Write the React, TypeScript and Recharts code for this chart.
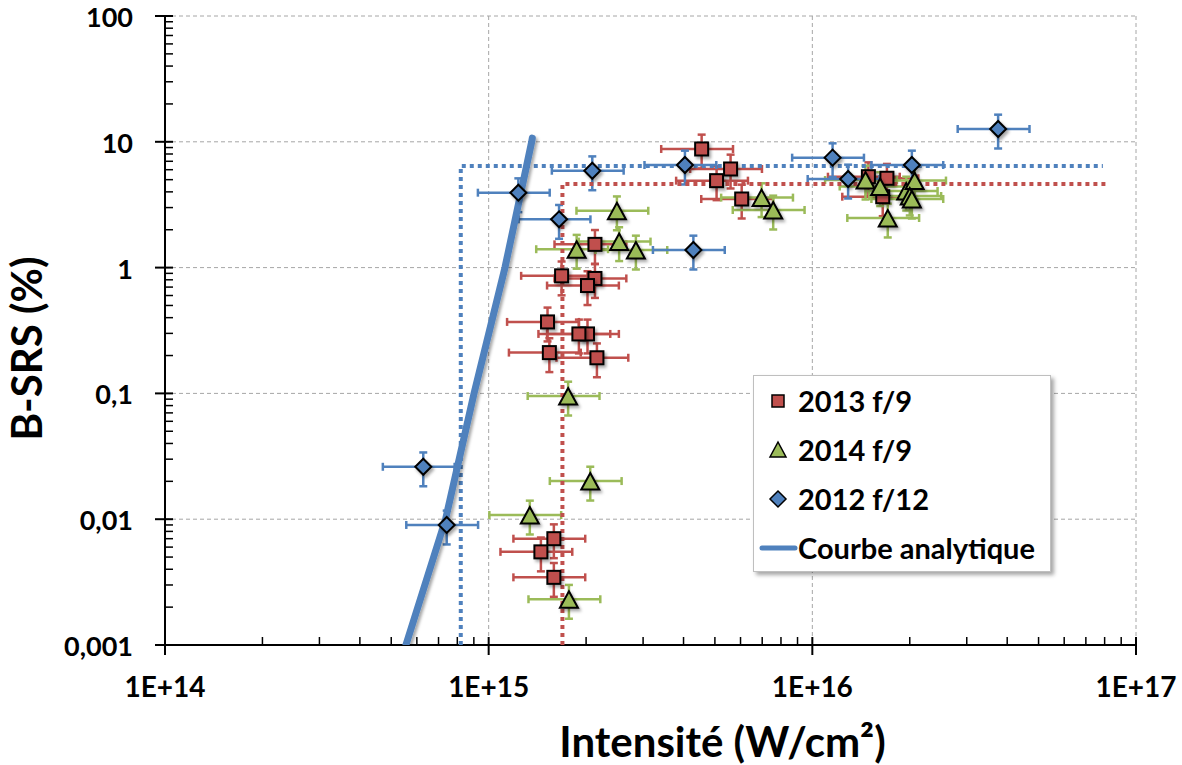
import React from 'react';
import {
  ScatterChart,
  Scatter,
  XAxis,
  YAxis,
  CartesianGrid,
  ErrorBar,
  Legend,
  Label,
} from 'recharts';

// axis ticks
const X_MAJOR = [1e14, 1e15, 1e16, 1e17];
const X_MAJOR_LABELS = ['1E+14', '1E+15', '1E+16', '1E+17'];
const Y_MAJOR = [0.001, 0.01, 0.1, 1, 10, 100];
const Y_MAJOR_LABELS = ['0,001', '0,01', '0,1', '1', '10', '100'];
const MINOR_STEPS = [2, 3, 4, 5, 6, 7, 8, 9];

// 2013 f/9
const F9_2013_X = [4.55e15, 5.59e15, 5.06e15, 6.05e15, 2.13e15, 1.68e15, 2.13e15, 2.02e15, 1.52e15, 2.02e15, 1.9e15, 1.54e15, 2.16e15, 1.59e15, 1.45e15, 1.59e15, 1.7e16, 1.65e16, 1.49e16];
const F9_2013_Y = [8.77, 6.08, 4.91, 3.51, 1.53, 0.86, 0.82, 0.72, 0.37, 0.297, 0.297, 0.211, 0.192, 0.007, 0.0055, 0.00345, 5.13, 3.66, 5.28];

// 2014 f/9
const F9_2014_X = [2.49e15, 1.87e15, 2.53e15, 2.85e15, 1.76e15, 2.06e15, 1.34e15, 1.77e15, 6.97e15, 7.57e15, 1.46e16, 1.62e16, 1.71e16, 1.95e16, 2.07e16, 2.0e16, 2.03e16];
const F9_2014_Y = [2.83, 1.4, 1.61, 1.38, 0.0953, 0.0201, 0.0108, 0.00231, 3.6, 2.87, 4.97, 4.41, 2.48, 4.06, 4.92, 3.71, 3.51];

// 2012 f/12
const F12_2012_X = [6.28e14, 7.42e14, 1.235e15, 2.09e15, 1.65e15, 4.29e15, 4.04e15, 1.155e16, 1.29e16, 2.03e16, 3.75e16];
const F12_2012_Y = [0.0261, 0.009, 3.94, 5.89, 2.42, 1.38, 6.54, 7.48, 5.06, 6.54, 12.64];

// relative uncertainties (Excel percentage error bars)
const X_ERR_PCT = 0.25;
const Y_ERR_PCT = 0.3;

// courbe analytique
const CURVE_X = [5.55e14, 7.36e14, 9.01e14, 1.123e15, 1.358e15, 1.364e15];
const CURVE_Y = [0.001, 0.01, 0.1, 1, 10, 10.7];

// seuils (pointillés)
const THRESH_F12_X = [8.2e14, 8.2e14, 7.9e16];
const THRESH_F12_Y = [0.001, 6.42, 6.42];
const THRESH_F9_X = [1.69e15, 1.69e15, 8.2e16];
const THRESH_F9_Y = [0.001, 4.62, 4.62];

const RED = '#C0504D';
const GREEN = '#9BBB59';
const BLUE = '#4F81BD';
const FONT = 'Lato, "Open Sans", sans-serif';

const minorOf = (majors: number[]) =>
  majors.slice(0, -1).flatMap((m) => MINOR_STEPS.map((s) => m * s));

const X_TICKS = [...X_MAJOR, ...minorOf(X_MAJOR)];
const Y_TICKS = [...Y_MAJOR, ...minorOf(Y_MAJOR)];

const withErrors = (xs: number[], ys: number[]) =>
  xs.map((x, i) => ({
    x,
    y: ys[i],
    ex: [x * X_ERR_PCT, x * X_ERR_PCT],
    ey: [ys[i] * Y_ERR_PCT, ys[i] * Y_ERR_PCT],
  }));

const toPoints = (xs: number[], ys: number[]) => xs.map((x, i) => ({ x, y: ys[i] }));

const data2013 = withErrors(F9_2013_X, F9_2013_Y);
const data2014 = withErrors(F9_2014_X, F9_2014_Y);
const data2012 = withErrors(F12_2012_X, F12_2012_Y);
const curveData = toPoints(CURVE_X, CURVE_Y);
const threshF12 = toPoints(THRESH_F12_X, THRESH_F12_Y);
const threshF9 = toPoints(THRESH_F9_X, THRESH_F9_Y);

const Square = ({ cx, cy }: any) => (
  <rect x={cx - 6.5} y={cy - 6.5} width={13} height={13} fill={RED} stroke="#000" strokeWidth={2} filter="url(#shadow)" />
);

const Triangle = ({ cx, cy }: any) => (
  <polygon
    points={`${cx},${cy - 8} ${cx + 9},${cy + 8.5} ${cx - 9},${cy + 8.5}`}
    fill={GREEN}
    stroke="#000"
    strokeWidth={2}
    filter="url(#shadow)"
  />
);

const Diamond = ({ cx, cy }: any) => (
  <polygon
    points={`${cx},${cy - 8} ${cx + 8},${cy} ${cx},${cy + 8} ${cx - 8},${cy}`}
    fill={BLUE}
    stroke="#000"
    strokeWidth={2}
    filter="url(#shadow)"
  />
);

const NoDot = () => <g />;

const XTick = ({ x, y, payload }: any) => {
  const idx = X_MAJOR.indexOf(payload.value);
  if (idx < 0) {
    return <line x1={x} x2={x} y1={y} y2={y - 8} stroke="#000" strokeWidth={1.5} />;
  }
  return (
    <g>
      <line x1={x} x2={x} y1={y - 8} y2={y + 10} stroke="#000" strokeWidth={2} />
      <text x={x} y={y + 52} textAnchor="middle" fontFamily={FONT} fontWeight={700} fontSize={28} fill="#000">
        {X_MAJOR_LABELS[idx]}
      </text>
    </g>
  );
};

const YTick = ({ x, y, payload }: any) => {
  const idx = Y_MAJOR.indexOf(payload.value);
  if (idx < 0) {
    return <line x1={x} x2={x + 8} y1={y} y2={y} stroke="#000" strokeWidth={1.5} />;
  }
  return (
    <g>
      <line x1={x - 10} x2={x + 8} y1={y} y2={y} stroke="#000" strokeWidth={2} />
      <text x={x - 32} y={y + 11} textAnchor="end" fontFamily={FONT} fontWeight={700} fontSize={27} fill="#000">
        {Y_MAJOR_LABELS[idx]}
      </text>
    </g>
  );
};

const XTitle = ({ viewBox }: any) => (
  <text
    x={viewBox.x + viewBox.width / 2 + 72}
    y={viewBox.y + 112}
    textAnchor="middle"
    fontFamily={FONT}
    fontWeight={700}
    fontSize={42}
    fill="#000"
  >
    Intensité (W/cm²)
  </text>
);

const YTitle = ({ viewBox }: any) => (
  <text
    transform={`translate(42, ${viewBox.y + viewBox.height / 2 + 18}) rotate(-90)`}
    textAnchor="middle"
    fontFamily={FONT}
    fontWeight={700}
    fontSize={42}
    fill="#000"
  >
    B-SRS (%)
  </text>
);

const LEGEND_ITEMS = [
  { label: '2013 f/9', kind: 'square' },
  { label: '2014 f/9', kind: 'triangle' },
  { label: '2012 f/12', kind: 'diamond' },
  { label: 'Courbe analytique', kind: 'line' },
];

const LegendMarker = ({ kind }: { kind: string }) => (
  <svg width={44} height={24} style={{ flex: 'none' }}>
    {kind === 'square' && <rect x={18} y={6} width={12} height={12} fill={RED} stroke="#000" strokeWidth={1.5} />}
    {kind === 'triangle' && <polygon points="24,4 32,19 16,19" fill={GREEN} stroke="#000" strokeWidth={1.5} />}
    {kind === 'diamond' && <polygon points="24,4 32,12 24,20 16,12" fill={BLUE} stroke="#000" strokeWidth={1.5} />}
    {kind === 'line' && <line x1={8} x2={41} y1={12} y2={12} stroke={BLUE} strokeWidth={5} strokeLinecap="round" />}
  </svg>
);

const renderLegend = () => (
  <div
    style={{
      width: 298,
      height: 197,
      boxSizing: 'border-box',
      background: '#fff',
      border: '1px solid #bfbfbf',
      boxShadow: '3px 3px 4px rgba(0,0,0,0.35)',
      fontFamily: FONT,
      fontWeight: 700,
      fontSize: 29,
      color: '#000',
    }}
  >
    {LEGEND_ITEMS.map((it) => (
      <div key={it.label} style={{ display: 'flex', alignItems: 'center', height: 49 }}>
        <LegendMarker kind={it.kind} />
        <span style={{ whiteSpace: 'nowrap', lineHeight: 1 }}>{it.label}</span>
      </div>
    ))}
  </div>
);

export default function App() {
  return (
    <div style={{ position: 'absolute', left: 0, top: 0, width: 1182, height: 765, background: '#fff' }}>
      <ScatterChart width={1182} height={765} margin={{ top: 16, right: 46, bottom: 0, left: 0 }}>
        <defs>
          <filter id="shadow" x="-50%" y="-50%" width="200%" height="200%">
            <feDropShadow dx="2" dy="2.5" stdDeviation="1.5" floodColor="#000" floodOpacity="0.35" />
          </filter>
        </defs>
        <CartesianGrid
          stroke="#a6a6a6"
          strokeDasharray="4 3"
          horizontalValues={Y_MAJOR}
          verticalValues={X_MAJOR}
        />
        <XAxis
          type="number"
          dataKey="x"
          scale="log"
          domain={[1e14, 1e17]}
          allowDataOverflow
          ticks={X_TICKS}
          interval={0}
          tick={XTick}
          tickLine={false}
          tickSize={0}
          tickMargin={0}
          height={120}
          axisLine={{ stroke: '#000', strokeWidth: 2 }}
        >
          <Label content={XTitle} />
        </XAxis>
        <YAxis
          type="number"
          dataKey="y"
          scale="log"
          domain={[0.001, 100]}
          allowDataOverflow
          ticks={Y_TICKS}
          interval={0}
          tick={YTick}
          tickLine={false}
          tickSize={0}
          tickMargin={0}
          width={165}
          axisLine={{ stroke: '#000', strokeWidth: 2 }}
        >
          <Label content={YTitle} />
        </YAxis>
        <Legend
          layout="vertical"
          align="center"
          verticalAlign="middle"
          content={renderLegend}
          wrapperStyle={{ left: 753, top: 375, width: 298, height: 197 }}
        />
        <Scatter
          name="seuil f/12"
          data={threshF12}
          shape={NoDot}
          line={{ stroke: BLUE, strokeWidth: 4, strokeDasharray: '4 4' }}
          lineType="joint"
          legendType="none"
          isAnimationActive={false}
        />
        <Scatter
          name="seuil f/9"
          data={threshF9}
          shape={NoDot}
          line={{ stroke: RED, strokeWidth: 4, strokeDasharray: '4 4' }}
          lineType="joint"
          legendType="none"
          isAnimationActive={false}
        />
        <Scatter
          name="Courbe analytique"
          data={curveData}
          shape={NoDot}
          line={{ stroke: BLUE, strokeWidth: 7, strokeLinecap: 'round', filter: 'url(#shadow)' }}
          lineType="joint"
          isAnimationActive={false}
        />
        <Scatter name="2013 f/9" data={data2013} shape={Square} isAnimationActive={false}>
          <ErrorBar dataKey="ex" direction="x" width={4} stroke={RED} strokeWidth={2.5} isAnimationActive={false} />
          <ErrorBar dataKey="ey" direction="y" width={4} stroke={RED} strokeWidth={2.5} isAnimationActive={false} />
        </Scatter>
        <Scatter name="2014 f/9" data={data2014} shape={Triangle} isAnimationActive={false}>
          <ErrorBar dataKey="ex" direction="x" width={4} stroke={GREEN} strokeWidth={2.5} isAnimationActive={false} />
          <ErrorBar dataKey="ey" direction="y" width={4} stroke={GREEN} strokeWidth={2.5} isAnimationActive={false} />
        </Scatter>
        <Scatter name="2012 f/12" data={data2012} shape={Diamond} isAnimationActive={false}>
          <ErrorBar dataKey="ex" direction="x" width={4} stroke={BLUE} strokeWidth={2.5} isAnimationActive={false} />
          <ErrorBar dataKey="ey" direction="y" width={4} stroke={BLUE} strokeWidth={2.5} isAnimationActive={false} />
        </Scatter>
      </ScatterChart>
    </div>
  );
}
